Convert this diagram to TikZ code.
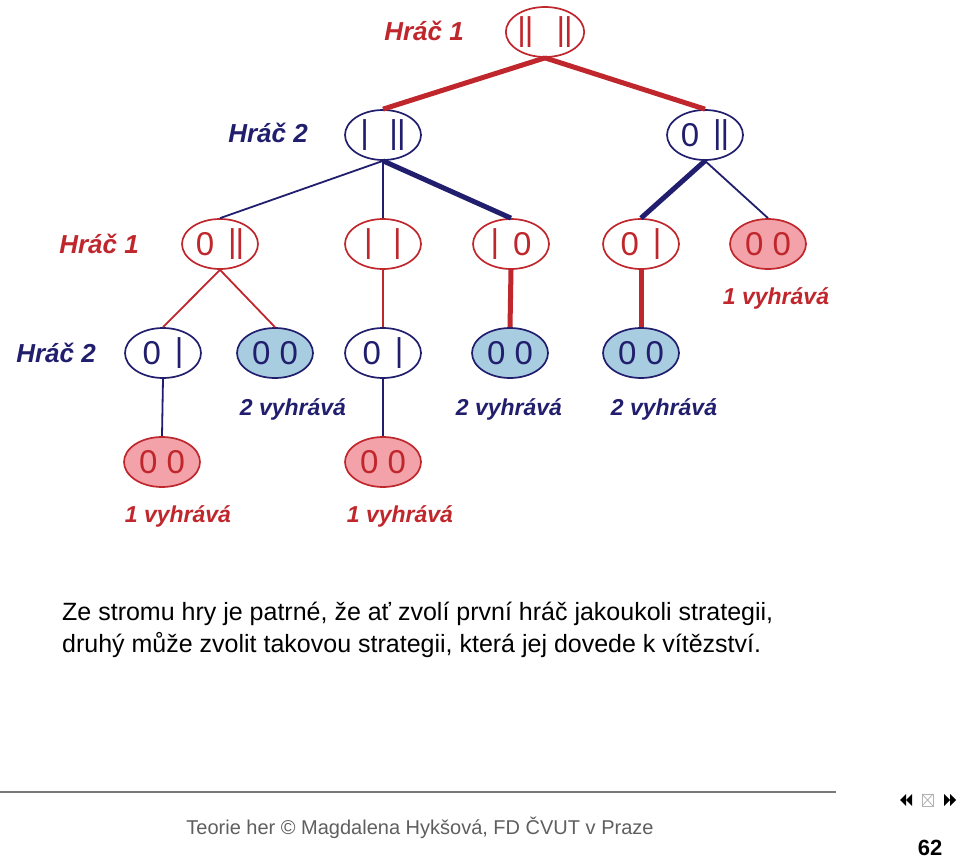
\documentclass[tikz,border=0pt]{standalone}
\usepackage{fontspec}
\setmainfont{Liberation Sans}
\usetikzlibrary{shapes.geometric}
\definecolor{cred}{RGB}{192,39,45}
\definecolor{cblue}{RGB}{33,30,110}
\definecolor{cpink}{RGB}{242,162,168}
\definecolor{clblue}{RGB}{168,204,224}
\definecolor{cgray}{RGB}{95,95,95}
\definecolor{cline}{RGB}{120,120,120}
\newcommand{\sbar}{\raisebox{0.09em}{|}}
\newcommand{\dbar}{\raisebox{0.09em}{|\kern-0.03em|}}
\newcommand{\bs}{\hspace{0.62em}}
\newcommand{\zs}{\hspace{0.42em}}
\tikzset{
  st/.style={ellipse, line width=1.7pt, minimum width=76pt, minimum height=50pt, inner sep=0pt,
    text height=27pt, text depth=4pt, font=\fontsize{33}{33}\selectfont},
  p1/.style={st, draw=cred, text=cred, fill=white},
  p2/.style={st, draw=cblue, text=cblue, fill=white},
  w1/.style={st, draw=cred, fill=cpink, text=cred},
  w2/.style={st, draw=cblue, fill=clblue, text=cblue},
  lab/.style={font=\fontsize{26}{26}\selectfont\bfseries\itshape, inner sep=0pt},
  win/.style={font=\fontsize{23}{23}\selectfont\bfseries\itshape, inner sep=0pt},
  ethin/.style={line width=1.8pt},
  ethick/.style={line width=5pt},
  para/.style={font=\fontsize{25}{25}\selectfont, anchor=base west, inner sep=0pt, text=black},
}
\begin{document}
\begin{tikzpicture}[x=1pt,y=-1pt]
\useasboundingbox[fill=white] (0,0) rectangle (960,859);
% nodes
\node[p1] (R) at (545,32) {\dbar\hspace{0.7em}\dbar};
\node[p2] (A) at (383,135) {\sbar\bs\dbar};
\node[p2] (B) at (705,135) {0\zs\dbar};
\node[p1] (C) at (220,244) {0\zs\dbar};
\node[p1] (D) at (383,244) {\sbar\bs\sbar};
\node[p1] (E) at (511,244) {\sbar\zs 0};
\node[p1] (F) at (641,244) {0\zs\sbar};
\node[w1] (G) at (768,244) {0 0};
\node[p2] (H) at (163,353) {0\zs\sbar};
\node[w2] (I) at (275,353) {0 0};
\node[p2] (J) at (383,353) {0\zs\sbar};
\node[w2] (K) at (510,353) {0 0};
\node[w2] (L) at (641,353) {0 0};
\node[w1] (M) at (162,462) {0 0};
\node[w1] (N) at (383,462) {0 0};
% connectors
\draw[cred, ethick] (R.south) -- (A.north);
\draw[cred, ethick] (R.south) -- (B.north);
\draw[cblue, ethin] (A.south) -- (C.north);
\draw[cblue, ethin] (A.south) -- (D.north);
\draw[cblue, ethick] (A.south) -- (E.north);
\draw[cblue, ethick] (B.south) -- (F.north);
\draw[cblue, ethin] (B.south) -- (G.north);
\draw[cred, ethin] (C.south) -- (H.north);
\draw[cred, ethin] (C.south) -- (I.north);
\draw[cred, ethin] (D.south) -- (J.north);
\draw[cred, ethick] (E.south) -- (K.north);
\draw[cred, ethick] (F.south) -- (L.north);
\draw[cblue, ethin] (H.south) -- (M.north);
\draw[cblue, ethin] (J.south) -- (N.north);
% labels
\node[lab, text=cred] (l1) at (424,31) {Hráč 1};
\node[lab, text=cblue] (l2) at (268,133) {Hráč 2};
\node[lab, text=cred] (l3) at (99,244) {Hráč 1};
\node[lab, text=cblue] (l4) at (56,353) {Hráč 2};
\node[win, text=cred] (v1) at (776,298) {1 vyhrává};
\node[win, text=cblue] (v2) at (293,409) {2 vyhrává};
\node[win, text=cblue] (v3) at (509,409) {2 vyhrává};
\node[win, text=cblue] (v4) at (664,409) {2 vyhrává};
\node[win, text=cred] (v5) at (178,516) {1 vyhrává};
\node[win, text=cred] (v6) at (400,516) {1 vyhrává};
% paragraph
\node[para] (t1) at (62,620) {Ze stromu hry je patrné, že ať zvolí první hráč jakoukoli strategii,};
\node[para] (t2) at (62,652) {druhý může zvolit takovou strategii, která jej dovede k vítězství.};
% footer
\draw[cline, line width=1.3pt] (0,792) -- (836,792);
\node[font=\fontsize{20}{20}\selectfont, text=cgray, inner sep=0pt] (ft) at (420,828) {Teorie her © Magdalena Hykšová, FD ČVUT v Praze};
\node[font=\fontsize{22}{22}\selectfont\bfseries, inner sep=0pt] (pg) at (930,848) {62};
% navigation symbols
\fill[black] (900,800) -- (906,794) -- (906,806) -- cycle;
\fill[black] (906,800) -- (912,794) -- (912,806) -- cycle;
\draw[gray!60, line width=0.8pt] (922,794) rectangle (933,806);
\draw[gray!60, line width=0.8pt] (922,794) -- (933,806) (933,794) -- (922,806);
\fill[black] (950,800) -- (944,794) -- (944,806) -- cycle;
\fill[black] (956,800) -- (950,794) -- (950,806) -- cycle;
\end{tikzpicture}
\end{document}
